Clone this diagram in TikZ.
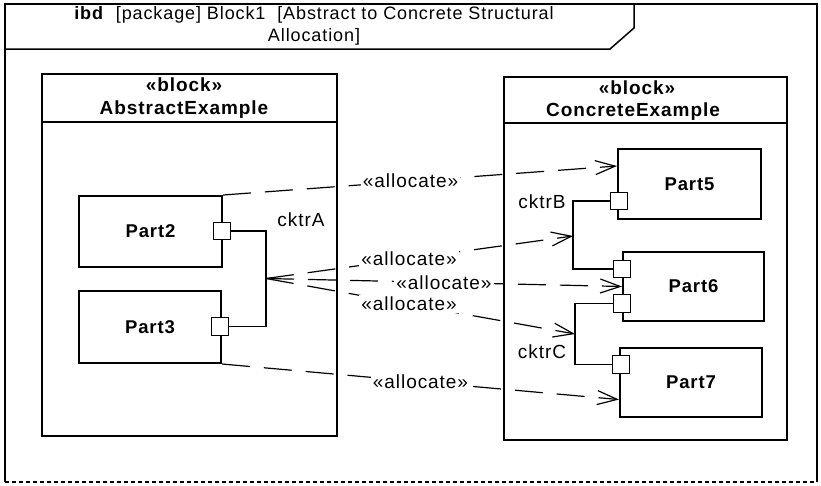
\documentclass[tikz,border=0pt]{standalone}
\usepackage{fontspec}
\setmainfont{Liberation Sans}[LetterSpace=5]
\usetikzlibrary{arrows.meta, calc}

\begin{document}
\begin{tikzpicture}[x=1pt, y=-1pt, >={Straight Barb[length=20pt, width=14pt]},
    txt/.style={font=\fontsize{19}{22}\selectfont, inner sep=0pt},
    hdr/.style={font=\fontsize{19}{22}\selectfont\bfseries, inner sep=0pt},
    partbox/.style={draw, line width=2pt, font=\fontsize{18.5}{22}\selectfont\bfseries, inner sep=0pt},
    blockbox/.style={draw, line width=2pt, inner sep=0pt},
    port/.style={draw, fill=white, line width=1.4pt, minimum size=17.5pt, inner sep=0pt},
    cktr/.style={line width=1.2pt},
    alloc/.style={line width=1.2pt, dash pattern=on 28pt off 14pt, ->},
    lbl/.style={txt, fill=white, inner sep=2pt}]
  \useasboundingbox (0,0) rectangle (821,485);
  % diagram frame
  \draw[line width=1.5pt] (5,482) -- (5,4) -- (817,4) -- (817,482);
  \draw[line width=2pt, dash pattern=on 4pt off 3pt] (5,482) -- (817,482);
  \draw[line width=1.5pt] (5,49) -- (610,49) -- (634,28) -- (634,4);
  \node[font=\fontsize{18}{22}\selectfont, inner sep=0pt, align=center] (title) at (314,26)
    {\textbf{ibd}\ \ [package]\ Block1\ \ [Abstract\ to\ Concrete\ Structural\\Allocation]};

  % blocks
  \node[blockbox, minimum width=295pt, minimum height=362pt] (abs) at (189.5,255) {};
  \node[blockbox, minimum width=283pt, minimum height=363pt] (con) at (645.5,258.5) {};
  \coordinate (absrule) at (0,122);
  \coordinate (conrule) at (0,123);
  \draw[line width=1.2pt] (abs.west |- absrule) -- (abs.east |- absrule);
  \draw[line width=1.2pt] (con.west |- conrule) -- (con.east |- conrule);
  \node[hdr] (absst) at (184,85) {«block»};
  \node[hdr] (absnm) at (184,110) {AbstractExample};
  \node[hdr] (const) at (637,88) {«block»};
  \node[hdr] (connm) at (633,112) {ConcreteExample};

  % parts
  \node[partbox, minimum width=143pt, minimum height=71pt] (p2) at (150.5,231.5) {Part2};
  \node[partbox, minimum width=142pt, minimum height=72pt] (p3) at (150,327) {Part3};
  \node[partbox, minimum width=143pt, minimum height=70pt] (p5) at (689.5,184) {Part5};
  \node[partbox, minimum width=141pt, minimum height=69pt] (p6) at (693.5,286.5) {Part6};
  \node[partbox, minimum width=142pt, minimum height=69pt] (p7) at (691,382.5) {Part7};

  % ports
  \node[port] (p2port) at (222,231) {};
  \node[port] (p3port) at (220,326.5) {};
  \node[port] (p5port) at (619,201) {};
  \node[port] (p6porta) at (622,269) {};
  \node[port] (p6portb) at (622,303.5) {};
  \node[port] (p7port) at (621,364.5) {};

  % connectors
  \coordinate (ja) at (266,278.5);
  \coordinate (jb) at (573,236);
  \coordinate (jc) at (575,334);
  \draw[cktr] (p2port.east) -| (ja) |- (p3port.east);
  \draw[cktr] (p5port.west) -| (jb) |- (p6porta.west);
  \draw[cktr] (p6portb.west) -| (jc) |- (p7port.west);
  \node[txt] (cka) at (301,220) {cktrA};
  \node[txt] (ckb) at (542,202) {cktrB};
  \node[txt] (ckc) at (542,352) {cktrC};

  % allocations
  \draw[alloc] (p2.north east) -- node[lbl, pos=0.476] {«allocate»} ($(p5.north west)!0.25!(p5.south west)$);
  \draw[alloc] (ja) -- node[lbl, pos=0.466] {«allocate»} (jb);
  \draw[alloc] (ja) -- node[lbl, pos=0.5] {«allocate»} (p6.west);
  \draw[alloc] (ja) -- node[lbl, pos=0.463] {«allocate»} (jc);
  \draw[alloc] (p3.south east) -- node[lbl, pos=0.5] {«allocate»} ($(p7.north west)!0.74!(p7.south west)$);
\end{tikzpicture}
\end{document}
